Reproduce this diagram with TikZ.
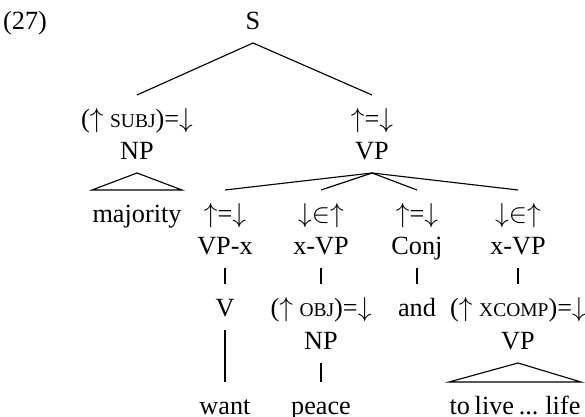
\documentclass[tikz,border=0pt]{standalone}
\usepackage{fontspec}
\setmainfont{Liberation Serif}
\newcommand{\fsc}[1]{{\fontsize{7.8pt}{10pt}\selectfont\MakeUppercase{#1}}}
\begin{document}
\begin{tikzpicture}[
  x=0.4pt, y=-0.4pt,
  lbl/.style={inner xsep=0pt, inner ysep=3.9pt, text height=8.8pt, text depth=1.4pt, font=\fontsize{10.5pt}{13pt}\selectfont},
  br/.style={line width=0.45pt},
]
\useasboundingbox (0,0) rectangle (585,417);

% --- example number and root ---
\node[lbl] (ex) at (25,20) {(27)};
\node[lbl] (s) at (253,20) {S};

% --- subject NP ---
\node[lbl] (npann) at (137,118) {($\uparrow$ \fsc{subj})=$\downarrow$};
\node[lbl] (np) at (137,150) {NP};
\node[lbl] (majority) at (137,213) {majority};

% --- head VP ---
\node[lbl] (vpann) at (372,118) {$\uparrow$=$\downarrow$};
\node[lbl] (vp) at (372,150) {VP};

\draw[br] (s.south) -- (npann.north);
\draw[br] (s.south) -- (vpann.north);
\draw[br] (np.south) -- (majority.north west) -- (majority.north east) -- cycle;

% --- daughters of VP ---
\node[lbl] (vpxann) at (225,213) {$\uparrow$=$\downarrow$};
\node[lbl] (vpx) at (225,245) {VP-x};
\node[lbl] (xvpann) at (321,213) {$\downarrow$$\in$$\uparrow$};
\node[lbl] (xvp) at (321,245) {x-VP};
\node[lbl] (conjann) at (417,213) {$\uparrow$=$\downarrow$};
\node[lbl] (conj) at (417,245) {Conj};
\node[lbl] (xvpbann) at (518,213) {$\downarrow$$\in$$\uparrow$};
\node[lbl] (xvpb) at (518,245) {x-VP};

\draw[br] (vp.south) -- (vpxann.north);
\draw[br] (vp.south) -- (xvpann.north);
\draw[br] (vp.south) -- (conjann.north);
\draw[br] (vp.south) -- (xvpbann.north);

% --- lower levels ---
\node[lbl] (v) at (225,307) {V};
\node[lbl] (want) at (225,405) {want};

\node[lbl] (objann) at (321,307) {($\uparrow$ \fsc{obj})=$\downarrow$};
\node[lbl] (npb) at (321,340) {NP};
\node[lbl] (peace) at (321,405) {peace};

\node[lbl] (and) at (417,307) {and};

\node[lbl] (xcompann) at (518,307) {($\uparrow$ \fsc{xcomp})=$\downarrow$};
\node[lbl] (vpb) at (518,340) {VP};
\node[lbl] (tolive) at (515,405) {\spaceskip=0.18em to live ... life};

\draw[br] (vpx.south) -- (v.north);
\draw[br] (v.south) -- (want.north);
\draw[br] (xvp.south) -- (objann.north);
\draw[br] (npb.south) -- (peace.north);
\draw[br] (conj.south) -- (and.north);
\draw[br] (xvpb.south) -- (xcompann.north);
\draw[br] (vpb.south) -- (tolive.north west) -- (tolive.north east) -- cycle;

\end{tikzpicture}
\end{document}
